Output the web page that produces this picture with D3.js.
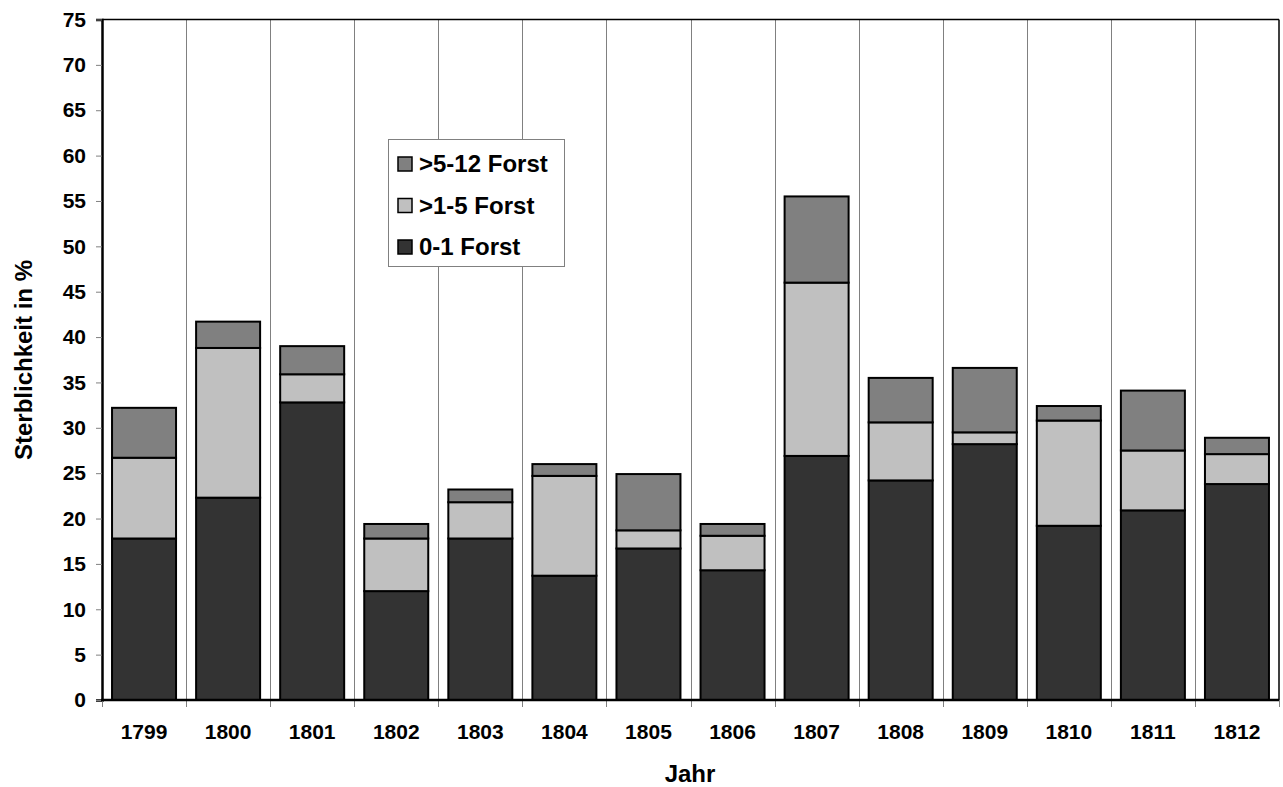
<!DOCTYPE html>
<html>
<head>
<meta charset="utf-8">
<script src="https://cdn.jsdelivr.net/npm/d3@7"></script>
<style>
  html, body { margin: 0; padding: 0; background: #fff; }
  svg { display: block; font-family: "Liberation Sans", Arial, sans-serif; font-weight: bold; }
</style>
</head>
<body>
<svg id="chart" width="1283" height="787"></svg>
<script>
// Mortality by year, stacked by age group (percent)
const years = ["1799","1800","1801","1802","1803","1804","1805","1806","1807","1808","1809","1810","1811","1812"];
const age0to1  = [17.8, 22.3, 32.8, 12.0, 17.8, 13.7, 16.7, 14.3, 26.9, 24.2, 28.2, 19.2, 20.9, 23.8];
const age1to5  = [8.9, 16.5, 3.1, 5.8, 4.0, 11.0, 2.0, 3.8, 19.1, 6.4, 1.3, 11.6, 6.6, 3.3];
const age5to12 = [5.5, 2.9, 3.1, 1.6, 1.4, 1.3, 6.2, 1.3, 9.5, 4.9, 7.1, 1.6, 6.6, 1.8];
const seriesNames = ["0-1 Forst", ">1-5 Forst", ">5-12 Forst"];
const yTicks = d3.range(0, 80, 5);

const colors = { "0-1 Forst": "#333333", ">1-5 Forst": "#c0c0c0", ">5-12 Forst": "#808080" };

const margin = { left: 102, top: 19.5, right: 1279, bottom: 700 };
const svg = d3.select("#chart");

const xb = d3.scaleBand().domain(years).range([margin.left, margin.right]);
const y = d3.scaleLinear().domain([0, 75]).range([margin.bottom, margin.top]);

const rows = years.map((yr, i) => ({
  year: yr,
  "0-1 Forst": age0to1[i],
  ">1-5 Forst": age1to5[i],
  ">5-12 Forst": age5to12[i]
}));
const stacked = d3.stack().keys(seriesNames)(rows);

// vertical separators between years
svg.append("g").selectAll("line")
  .data(years.slice(1))
  .join("line")
  .attr("x1", d => Math.round(xb(d)) + 0.5)
  .attr("x2", d => Math.round(xb(d)) + 0.5)
  .attr("y1", margin.top)
  .attr("y2", margin.bottom)
  .attr("stroke", "#808080")
  .attr("stroke-width", 1);

// stacked bars
const barW = 64;
svg.append("g").selectAll("g")
  .data(stacked)
  .join("g")
  .attr("fill", d => colors[d.key])
  .selectAll("rect")
  .data(d => d)
  .join("rect")
  .attr("x", d => xb(d.data.year) + (xb.bandwidth() - barW) / 2)
  .attr("width", barW)
  .attr("y", d => y(d[1]))
  .attr("height", d => y(d[0]) - y(d[1]))
  .attr("stroke", "#000")
  .attr("stroke-width", 2);

// frame
svg.append("line").attr("x1", margin.left).attr("x2", margin.right)
  .attr("y1", margin.top).attr("y2", margin.top).attr("stroke", "#000").attr("stroke-width", 1.5);
svg.append("line").attr("x1", margin.right).attr("x2", margin.right)
  .attr("y1", margin.top).attr("y2", margin.bottom).attr("stroke", "#000").attr("stroke-width", 1.5);

// y axis
const yAxis = svg.append("g")
  .attr("transform", `translate(${margin.left},0)`)
  .call(d3.axisLeft(y).tickValues(yTicks).tickSize(6).tickPadding(10));
yAxis.select(".domain").attr("stroke", "#000").attr("stroke-width", 2.5);
yAxis.selectAll(".tick line").attr("stroke", "#808080").attr("stroke-width", 1);
yAxis.selectAll("text").attr("font-size", 21).attr("font-weight", "bold")
  .attr("font-family", "Liberation Sans, Arial, sans-serif").attr("fill", "#000");

// x axis: ticks at year boundaries, labels centred in each band
const xAxisG = svg.append("g").attr("transform", `translate(0,${margin.bottom})`);
xAxisG.selectAll("line.tick")
  .data(years.concat(["end"]))
  .join("line")
  .attr("class", "tick")
  .attr("x1", (d, i) => Math.round(margin.left + i * xb.step()) + 0.5)
  .attr("x2", (d, i) => Math.round(margin.left + i * xb.step()) + 0.5)
  .attr("y1", 0).attr("y2", 7)
  .attr("stroke", "#808080");
xAxisG.append("line").attr("x1", margin.left - 1).attr("x2", margin.right)
  .attr("y1", 0).attr("y2", 0).attr("stroke", "#000").attr("stroke-width", 2.5);
xAxisG.selectAll("text")
  .data(years)
  .join("text")
  .attr("x", d => xb(d) + xb.bandwidth() / 2)
  .attr("y", 39)
  .attr("text-anchor", "middle")
  .attr("font-size", 21)
  .text(d => d);

// axis titles
svg.append("text").attr("x", 690).attr("y", 782).attr("text-anchor", "middle")
  .attr("font-size", 24).text("Jahr");
svg.append("text").attr("transform", "translate(32,360) rotate(-90)")
  .attr("text-anchor", "middle").attr("font-size", 24).text("Sterblichkeit in %");

// legend
const legend = svg.append("g");
legend.append("rect").attr("x", 388.5).attr("y", 139.5).attr("width", 176).attr("height", 127)
  .attr("fill", "#fff").attr("stroke", "#808080").attr("stroke-width", 1);
const legendItems = [">5-12 Forst", ">1-5 Forst", "0-1 Forst"];
legendItems.forEach((name, i) => {
  const cy = 164 + i * 41.5;
  legend.append("rect").attr("x", 398).attr("y", cy - 7).attr("width", 14).attr("height", 14)
    .attr("fill", colors[name]).attr("stroke", "#000").attr("stroke-width", 1.5);
  legend.append("text").attr("x", 419).attr("y", cy + 8).attr("font-size", 24).text(name);
});
</script>
</body>
</html>
